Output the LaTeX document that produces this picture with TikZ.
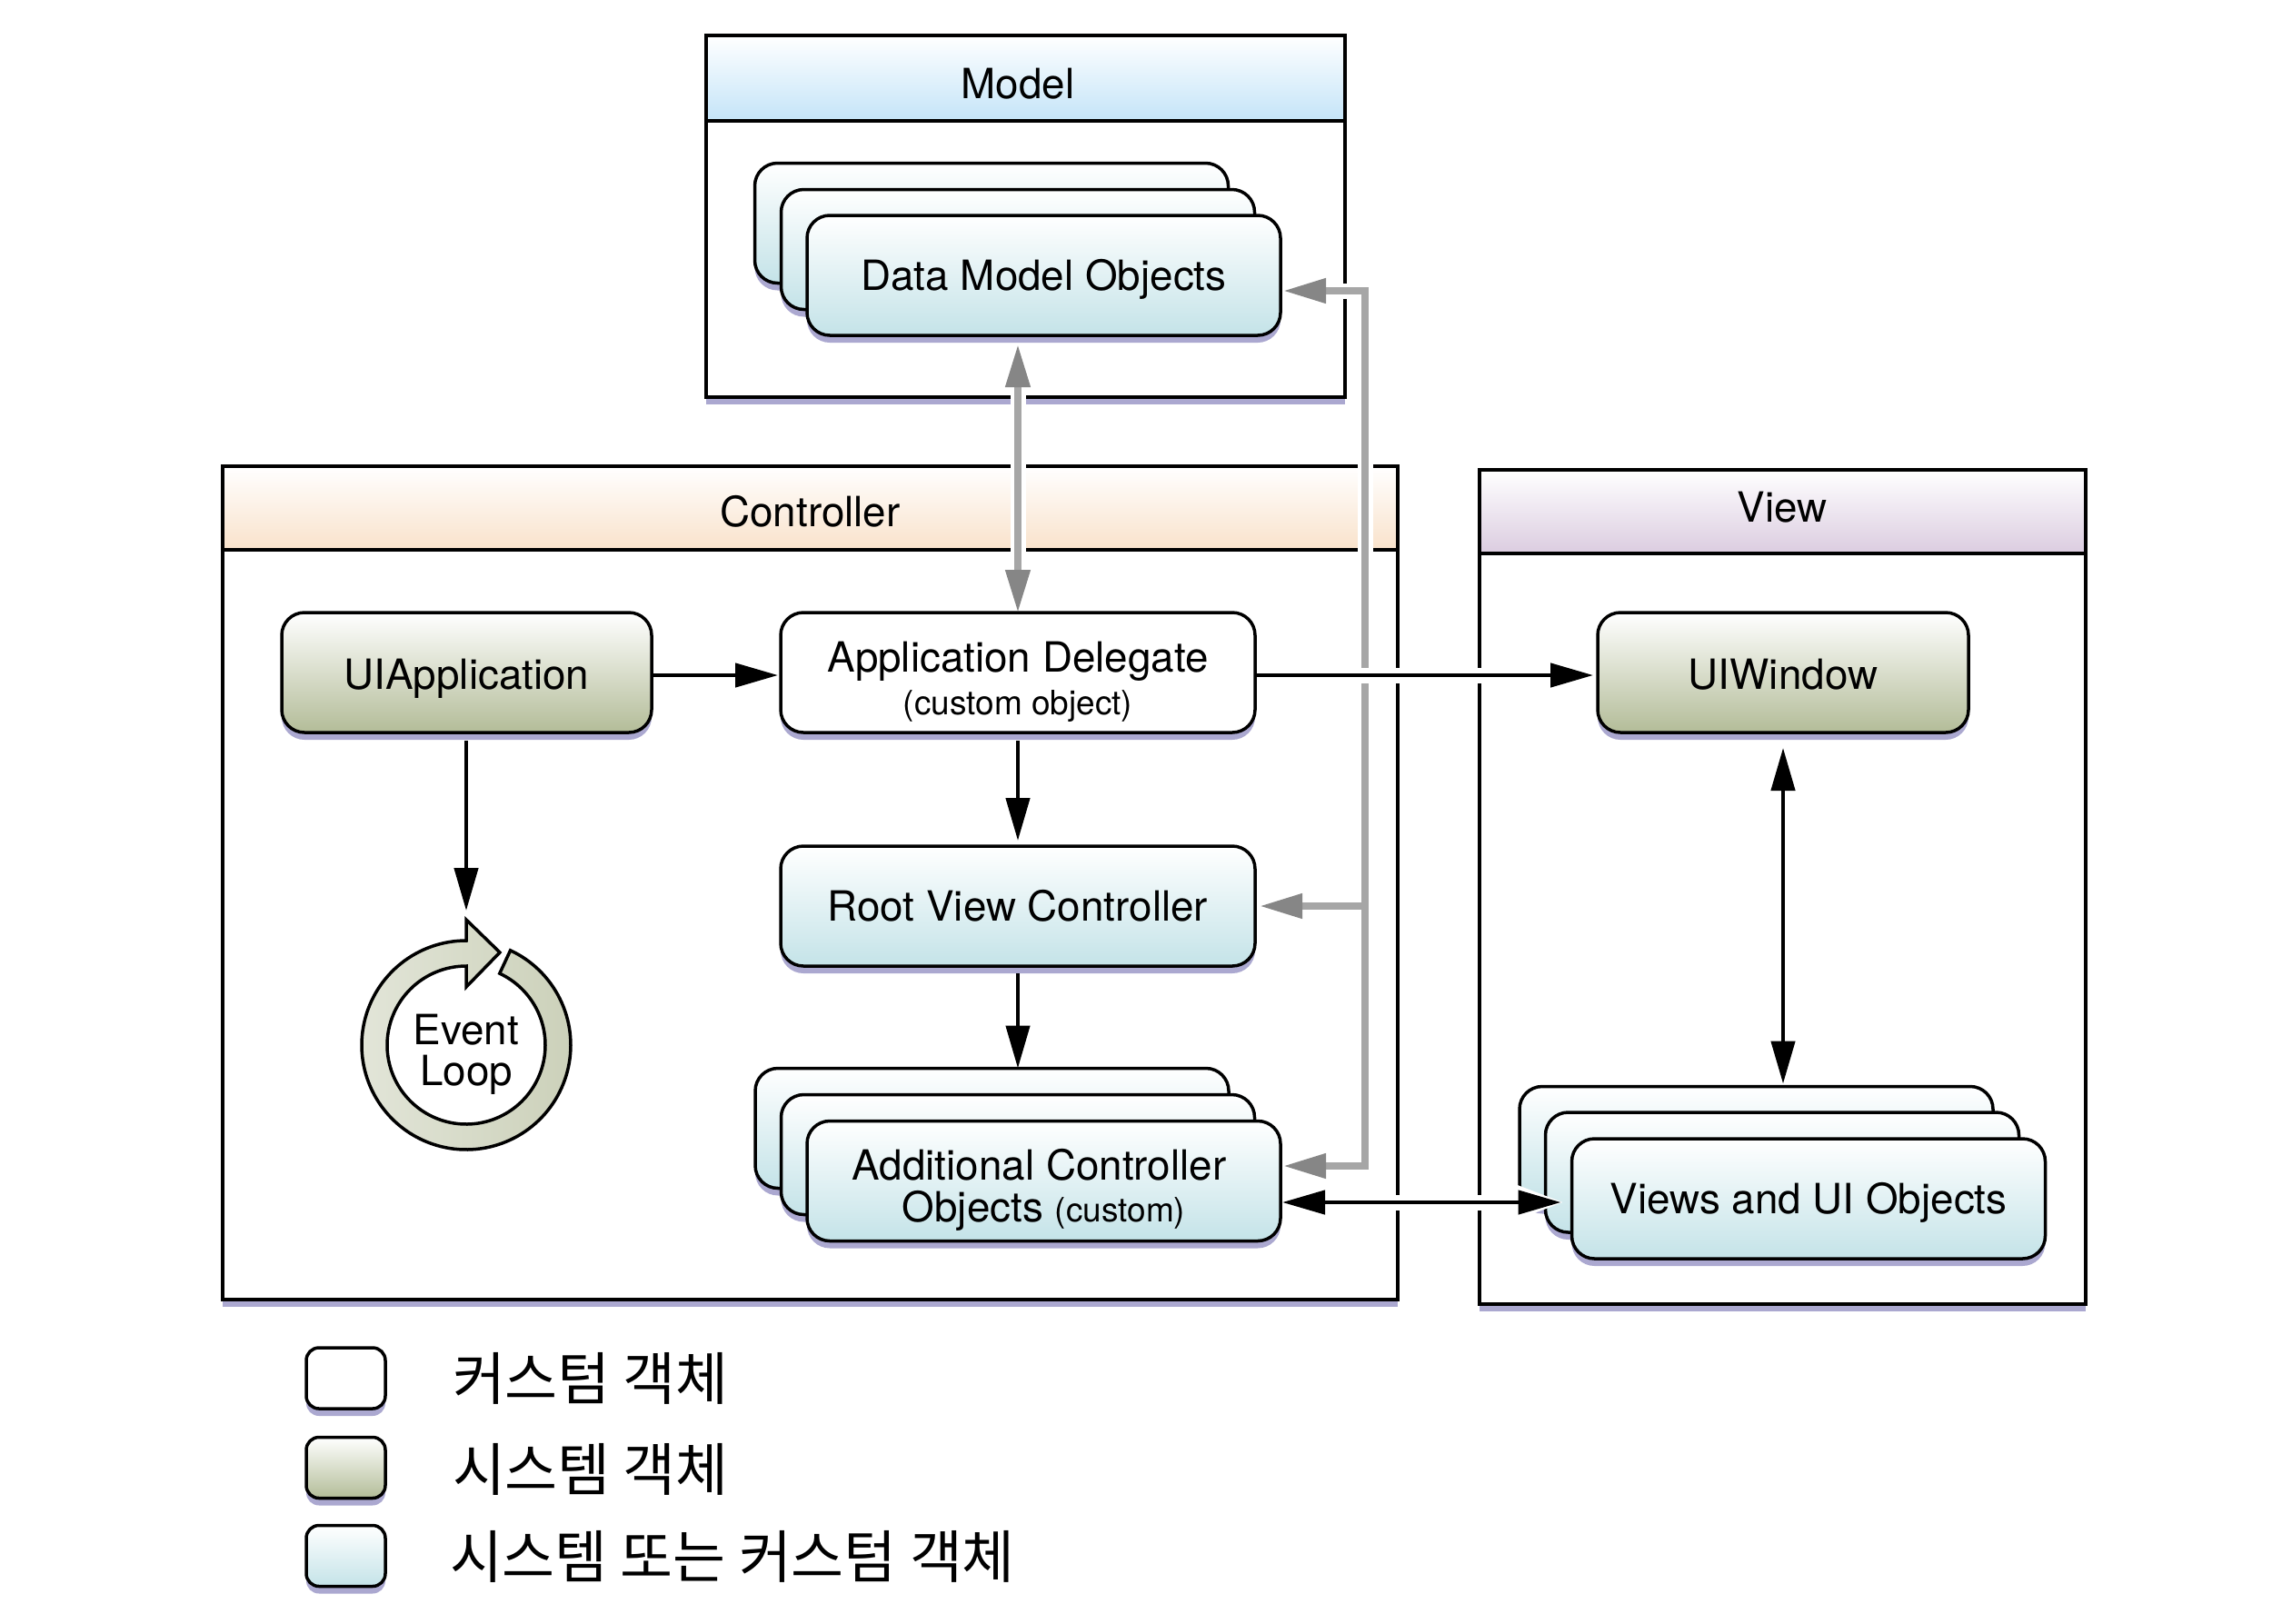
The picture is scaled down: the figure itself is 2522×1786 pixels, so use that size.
\documentclass[tikz,border=0pt]{standalone}
\usepackage{fontspec}
\setmainfont{TeX Gyre Heros}
\newfontfamily\krfont{Noto Sans CJK KR}
\usetikzlibrary{arrows.meta,shadows}
\definecolor{shad}{HTML}{ABA8D0}
\definecolor{bluebot}{HTML}{C4E3E8}
\definecolor{olivebot}{HTML}{B3BC98}
\definecolor{modelbot}{HTML}{C4E4F8}
\definecolor{ctrlbot}{HTML}{F9E2CB}
\definecolor{viewbot}{HTML}{DBCCE0}
\definecolor{grayline}{HTML}{A6A6A6}
\definecolor{grayhead}{HTML}{868686}
\definecolor{ringl}{HTML}{E2E5D8}
\definecolor{ringr}{HTML}{CCD1BA}
\newcommand{\smalltxt}{\fontsize{37}{46}\selectfont}
\tikzset{
  base/.style={font=\fontsize{45.8}{46}\selectfont,inner sep=0pt,outer sep=0pt},
  panel/.style={base,rectangle,draw=black,line width=3.5pt,fill=white,
    general shadow={shadow xshift=0pt,shadow yshift=-8pt,fill=shad}},
  header/.style={base,rectangle,draw=black,line width=3.5pt,top color=white},
  title/.style={base,text height=33pt,text depth=0pt},
  obj/.style={base,rectangle,rounded corners=25pt,draw=black,line width=3.5pt,
    minimum height=132pt,align=center,text height=33pt,text depth=0pt,
    general shadow={shadow xshift=0pt,shadow yshift=-8pt,fill=shad}},
  twoline/.style={text height=,text depth=},
  whitebox/.style={obj,fill=white},
  olivebox/.style={obj,top color=white,bottom color=olivebot,text height=36pt},
  bluebox/.style={obj,top color=white,bottom color=bluebot},
  swatch/.style={minimum width=87pt,minimum height=67pt,rounded corners=14pt},
  legendtext/.style={inner sep=0pt,outer sep=0pt,anchor=west,font=\krfont\fontsize{63}{70}\selectfont,text height=50pt,text depth=4pt},
  blackarr/.style={draw=black,line width=4.5pt},
  btip/.style={-{Triangle[length=47pt,width=26pt,color=black]}},
  bbtip/.style={{Triangle[length=47pt,width=26pt,color=black]}-{Triangle[length=47pt,width=26pt,color=black]}},
  grayarr/.style={draw=grayline,line width=7.5pt,line cap=rect,-{Triangle[length=47pt,width=26pt,color=grayhead]}},
  graybi/.style={draw=grayline,line width=7.5pt,{Triangle[length=47pt,width=26pt,color=grayhead]}-{Triangle[length=47pt,width=26pt,color=grayhead]}},
  grayrun/.style={draw=grayline,line width=7.5pt},
  halo/.style={draw=white,line width=17pt,line cap=butt},
  ring/.style={draw=black,line width=3.5pt,line join=miter,left color=ringl,right color=ringr},
}
\begin{document}
\begin{tikzpicture}[x=1pt,y=-1pt]
\useasboundingbox (0,0) rectangle (2522,1786);
\fill[white] (0,0) rectangle (2522,1786);

% panels
\node[panel,minimum width=703pt,minimum height=398pt] (model) at (1128.5,238) {};
\node[header,bottom color=modelbot,minimum width=703pt,minimum height=94pt] (modelhead) at (1128.5,86) {};
\node[title] (modeltitle) at (1120,91.5) {Model};
\node[panel,minimum width=1293pt,minimum height=917pt] (ctrl) at (891.5,971.5) {};
\node[header,bottom color=ctrlbot,minimum width=1293pt,minimum height=92pt] (ctrlhead) at (891.5,559) {};
\node[title] (ctrltitle) at (891.5,563) {Controller};
\node[panel,minimum width=667pt,minimum height=918pt] (view) at (1961.5,976) {};
\node[header,bottom color=viewbot,minimum width=667pt,minimum height=92pt] (viewhead) at (1961.5,563) {};
\node[title] (viewtitle) at (1961,557.5) {View};

% model stack
\node[bluebox,minimum width=521pt] (databack) at (1091,245.5) {};
\node[bluebox,minimum width=521pt] (datamid) at (1120,274.5) {};
\node[bluebox,minimum width=521pt] (data) at (1148.5,303) {Data Model Objects};

% controller objects
\node[olivebox,minimum width=407pt] (uiapp) at (513.5,740) {UIApplication};
\node[whitebox,minimum width=522pt,twoline] (appdel) at (1120,740) {\rule{0pt}{55pt}Application Delegate\\[1pt]{\smalltxt (custom object)}};
\node[bluebox,minimum width=522pt] (rootvc) at (1120,997) {Root View Controller};
\node[bluebox,minimum width=521pt] (addback) at (1091.5,1241.5) {};
\node[bluebox,minimum width=521pt] (addmid) at (1120,1270.5) {};
\node[bluebox,minimum width=521pt,twoline] (addfront) at (1148.5,1299.5) {\rule{0pt}{54.5pt}Additional Controller\hspace*{10pt}\\Objects {\smalltxt (custom)}};

% event loop
\draw[ring] plot[domain=65:-270,samples=140] ({513+115*cos(\x)},{1150-115*sin(\x)})
  -- (513,1012) -- (550,1048) -- (513,1086) -- (513,1063)
  -- plot[domain=90:425,samples=140] ({513+87*cos(\x)},{1150-87*sin(\x)}) -- cycle;
\node[base,circle,minimum size=230pt,align=center] (loop) at (513,1150) {\rule{0pt}{53.5pt}Event\\[-1.5pt]Loop};

% view objects
\node[olivebox,minimum width=408pt] (window) at (1962,740) {UIWindow};
\node[bluebox,minimum width=521pt] (viewsback) at (1932.5,1261.5) {};
\node[bluebox,minimum width=521pt] (viewsmid) at (1961,1290) {};
\node[bluebox,minimum width=521pt] (viewsfront) at (1990,1319) {Views and UI Objects};

% legend
\node[whitebox,swatch] (swcustom) at (380.5,1516.5) {};
\node[olivebox,swatch] (swsystem) at (380.5,1615) {};
\node[bluebox,swatch] (swboth) at (380.5,1712) {};
\node[legendtext] (lgcustom) at (498,1517) {커스텀 객체};
\node[legendtext] (lgsystem) at (498,1617) {시스템 객체};
\node[legendtext] (lgboth) at (495,1713) {시스템 또는 커스텀 객체};

% routing points
\coordinate (graytop) at (1502,320);
\coordinate (grayroot) at (1502,997);
\coordinate (graybot) at (1502,1283);
\coordinate (rowlink) at (1500,1323);
\coordinate (toprow) at (1000,743);

% gray connectors
\draw[halo,shorten <=57pt,shorten >=47pt] (appdel.north |- data.south) -- (appdel.north);
\draw[graybi,shorten <=10pt,shorten >=0pt] (appdel.north |- data.south) -- (appdel.north);
\draw[halo] (graytop) -- (graybot);
\draw[halo,shorten >=50pt] (graytop) -- (data.east |- graytop);
\draw[grayrun,line cap=rect] (graytop) -- (graybot);
\draw[grayarr,shorten >=3pt] (graytop) -- (data.east |- graytop);
\draw[grayarr,shorten >=5pt] (grayroot) -- (rootvc.east);
\draw[grayarr,shorten >=3pt] (graybot) -- (addfront.east |- graybot);

% black connectors
\draw[blackarr,btip,shorten >=3pt] (uiapp.east |- toprow) -- (appdel.west |- toprow);
\draw[halo,shorten <=40pt,shorten >=50pt] (appdel.east |- toprow) -- (window.west |- toprow);
\draw[blackarr,btip,shorten >=5pt] (appdel.east |- toprow) -- (window.west |- toprow);
\draw[blackarr,btip,shorten <=9pt,shorten >=33pt] (loop.north |- uiapp.south) -- (loop.north);
\draw[blackarr,btip,shorten <=9pt,shorten >=6pt] (appdel.south) -- (rootvc.north);
\draw[blackarr,btip,shorten <=8pt] (rootvc.south) -- (rootvc.south |- addback.north);
\draw[blackarr,bbtip,shorten <=17pt,shorten >=3pt] (window.south) -- (window.south |- viewsback.north);
\draw[halo,shorten <=60pt,shorten >=6pt,-{Triangle[length=55pt,width=34pt,color=white]}] (addfront.east |- rowlink) -- (viewsfront.west |- rowlink);
\draw[blackarr,bbtip,shorten <=2pt,shorten >=12pt] (addfront.east |- rowlink) -- (viewsfront.west |- rowlink);
\end{tikzpicture}
\end{document}
